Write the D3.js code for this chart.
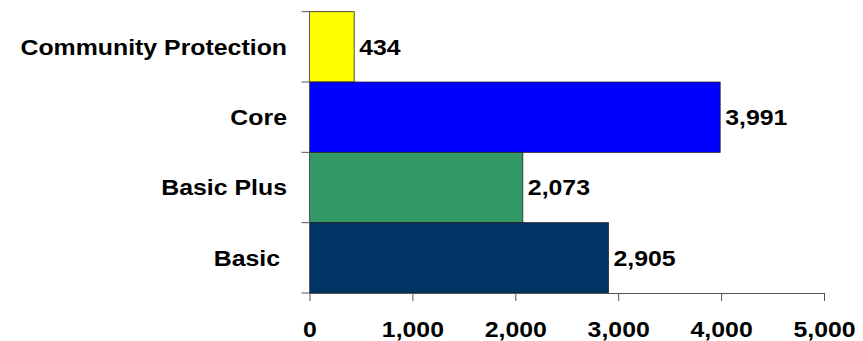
<!DOCTYPE html>
<html>
<head>
<meta charset="utf-8">
<script src="https://cdn.jsdelivr.net/npm/d3@7"></script>
<style>
  html, body { margin: 0; padding: 0; background: #fff; }
  svg { display: block; }
  text { font-family: "Liberation Sans", Arial, sans-serif; font-weight: bold; fill: #000; }
</style>
</head>
<body>
<svg id="chart" width="863" height="341"></svg>
<script>
// Programme counts by category (top to bottom)
const categories = ["Community Protection", "Core", "Basic Plus", "Basic "];
const values = [434, 3991, 2073, 2905];
const colors = ["#FFFF00", "#0000FF", "#339966", "#003366"];
const xTicks = [0, 1000, 2000, 3000, 4000, 5000];

const svg = d3.select("#chart");
const plotLeft = 309.5, plotRight = 824, plotTop = 11.7, plotBottom = 293;

const x = d3.scaleLinear().domain([0, 5000]).range([plotLeft, plotRight]);
const y = d3.scaleBand().domain(categories).range([plotTop, plotBottom]).padding(0);
const fmt = d3.format(",");
const fontSize = 22;
const stretch = 1.13; // labels are set slightly wide

// bars
svg.append("g").selectAll("rect")
  .data(categories)
  .join("rect")
  .attr("x", x(0))
  .attr("y", d => y(d))
  .attr("width", (d, i) => x(values[i]) - x(0))
  .attr("height", y.bandwidth())
  .attr("fill", (d, i) => colors[i])
  .attr("stroke", "#222")
  .attr("stroke-width", 0.8);

// value labels
svg.append("g").selectAll("text")
  .data(categories)
  .join("text")
  .attr("transform", (d, i) => `translate(${x(values[i]) + 5},${y(d) + y.bandwidth() / 2}) scale(${stretch},1)`)
  .attr("dy", "0.35em")
  .style("font-size", fontSize + "px")
  .text((d, i) => fmt(values[i]));

// category axis (ticks at band boundaries)
const yAxisG = svg.append("g");
yAxisG.append("line")
  .attr("x1", plotLeft).attr("x2", plotLeft)
  .attr("y1", plotTop).attr("y2", plotBottom)
  .attr("stroke", "#555").attr("stroke-width", 1);
const bounds = categories.map(d => y(d)).concat([y(categories[categories.length - 1]) + y.bandwidth()]);
yAxisG.selectAll("line.tick")
  .data(bounds)
  .join("line")
  .attr("class", "tick")
  .attr("x1", plotLeft - 8).attr("x2", plotLeft)
  .attr("y1", d => d).attr("y2", d => d)
  .attr("stroke", "#555").attr("stroke-width", 1);
yAxisG.selectAll("text")
  .data(categories)
  .join("text")
  .attr("transform", d => `translate(287,${y(d) + y.bandwidth() / 2}) scale(${stretch},1)`)
  .attr("dy", "0.35em")
  .attr("text-anchor", "end")
  .style("white-space", "pre")
  .style("font-size", fontSize + "px")
  .text(d => d);

// value axis
const xAxis = d3.axisBottom(x)
  .tickValues(xTicks)
  .tickFormat(fmt)
  .tickSize(8)
  .tickSizeOuter(0)
  .tickPadding(20);
const xg = svg.append("g")
  .attr("transform", `translate(0,${plotBottom})`)
  .call(xAxis);
xg.select(".domain").attr("stroke", "#555");
xg.selectAll(".tick line").attr("stroke", "#555");
xg.selectAll(".tick text")
  .attr("transform", `scale(${stretch},1)`)
  .style("font-size", fontSize + "px")
  .style("font-family", "'Liberation Sans', Arial, sans-serif")
  .style("font-weight", "bold")
  .attr("fill", "#000");
</script>
</body>
</html>
